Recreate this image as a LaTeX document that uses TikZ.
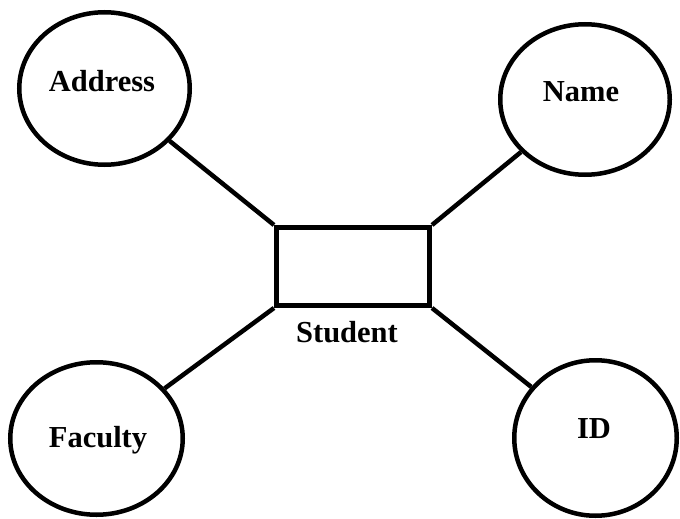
\documentclass[tikz,border=0pt]{standalone}
\usepackage{fontspec}
\setmainfont{Liberation Serif}
\usetikzlibrary{shapes.geometric}
\begin{document}
\begin{tikzpicture}[x=1pt,y=-1pt,
  attr/.style={ellipse,draw,line width=4.5pt,inner sep=0pt},
  entity/.style={rectangle,draw,line width=5pt,inner sep=0pt,
    minimum width=153pt,minimum height=78pt},
  lbl/.style={anchor=base,inner sep=0pt,font=\fontsize{30.5}{33}\selectfont\bfseries},
  link/.style={line width=4.5pt}]
\useasboundingbox (0,0) rectangle (680,519);
% entity
\node[entity] (st) at (353,266.5) {};
\node[lbl] (sttxt) at (347,342) {Student};
% attributes
\node[attr,minimum width=170.5pt,minimum height=152.5pt] (addr) at (104.5,88.5) {};
\node[attr,minimum width=169.5pt,minimum height=150.5pt] (name) at (585,99.5) {};
\node[attr,minimum width=172.5pt,minimum height=152.5pt] (fac) at (96.5,438.5) {};
\node[attr,minimum width=162.5pt,minimum height=155.5pt] (id) at (595.5,438) {};
\node[lbl] (addrtxt) at (102,92) {Address};
\node[lbl] (nametxt) at (581,102) {Name};
\node[lbl] (factxt) at (98,447) {Faculty};
\node[lbl] (idtxt) at (594,438) {ID};
% connectors
\draw[link] (st.north west) -- (addr);
\draw[link] (st.north east) -- (name);
\draw[link] (st.south west) -- (fac);
\draw[link] (st.south east) -- (id);
\end{tikzpicture}
\end{document}
